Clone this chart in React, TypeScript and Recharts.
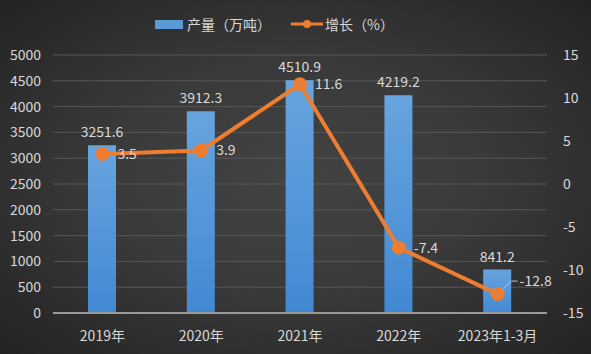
import React from 'react';
import { ComposedChart, Bar, Line, XAxis, YAxis, CartesianGrid, Legend, LabelList } from 'recharts';

const categories = ['2019年', '2020年', '2021年', '2022年', '2023年1-3月'];
const output = [3251.6, 3912.3, 4510.9, 4219.2, 841.2];
const growth = [3.5, 3.9, 11.6, -7.4, -12.8];
const leftTicks = [0, 500, 1000, 1500, 2000, 2500, 3000, 3500, 4000, 4500, 5000];
const rightTicks = [-15, -10, -5, 0, 5, 10, 15];

const data = categories.map((name, i) => ({ name, output: output[i], growth: growth[i] }));

const textColor = '#d9d9d9';
const font = '"Noto Sans CJK SC", "Noto Sans", sans-serif';

const LegendBox = () => (
  <div style={{ display: 'flex', justifyContent: 'center', alignItems: 'center', fontFamily: font, fontSize: 14, color: textColor, height: 20, paddingRight: 42 }}>
    <span style={{ display: 'inline-block', width: 28, height: 9, background: '#5b9bd5', marginRight: 4 }} />
    <span style={{ marginRight: 20 }}>产量（万吨）</span>
    <svg width={32} height={12} style={{ marginRight: 2 }}>
      <line x1={0} y1={6} x2={32} y2={6} stroke="#ed7d31" strokeWidth={3} />
      <circle cx={16} cy={6} r={4} fill="#ed7d31" />
    </svg>
    <span>增长（%）</span>
  </div>
);

const GrowthLabel = (props: any) => {
  const { x, y, value, index } = props;
  if (index === growth.length - 1) {
    return (
      <g>
        <polyline points={`${x + 4},${y - 4} ${x + 14},${y - 13} ${x + 20},${y - 13}`} fill="none" stroke="#bfbfbf" strokeWidth={1} />
        <text x={x + 22} y={y - 13} dy={5} fill={textColor} fontSize={14} fontFamily={font}>{value}</text>
      </g>
    );
  }
  return (
    <text x={x + 15} y={y} dy={5} fill={textColor} fontSize={14} fontFamily={font}>{value}</text>
  );
};

const BarLabel = (props: any) => {
  const { x, y, width, value } = props;
  return (
    <text x={x + width / 2} y={y - 8} textAnchor="middle" fill={textColor} fontSize={14} fontFamily={font}>{value}</text>
  );
};

export default function App() {
  return (
    <div style={{ position: 'absolute', left: 0, top: 0, width: 591, height: 354, background: 'radial-gradient(ellipse at 50% 50%, #434343 0%, #3a3a3a 45%, #232323 100%)' }}>
      <ComposedChart width={591} height={354} data={data} margin={{ top: 14, right: 0, bottom: 0, left: 0 }}>
        <defs>
          <linearGradient id="barFill" x1="0" y1="0" x2="0" y2="1">
            <stop offset="0%" stopColor="#67a4de" />
            <stop offset="100%" stopColor="#4289d3" />
          </linearGradient>
        </defs>
        <Legend verticalAlign="top" height={41} content={() => <LegendBox />} />
        <CartesianGrid vertical={false} stroke="#575757" strokeWidth={1} yAxisId="left" />
        <XAxis dataKey="name" height={41} axisLine={{ stroke: '#9a9a9a', strokeWidth: 2 }} tickLine={false} tickMargin={12}
          tick={{ fill: textColor, fontSize: 14, fontFamily: font }} />
        <YAxis yAxisId="left" width={53} domain={[0, 5000]} ticks={leftTicks} axisLine={false} tickLine={false} tickMargin={6}
          tick={{ fill: textColor, fontSize: 14, fontFamily: font }} interval={0} />
        <YAxis yAxisId="right" orientation="right" width={44} domain={[-15, 15]} ticks={rightTicks} axisLine={false} tickLine={false} tickMargin={10}
          tick={{ fill: textColor, fontSize: 14, fontFamily: font }} interval={0} />
        <Bar yAxisId="left" dataKey="output" fill="url(#barFill)" barSize={28} isAnimationActive={false}>
          <LabelList dataKey="output" content={BarLabel} />
        </Bar>
        <Line yAxisId="right" dataKey="growth" stroke="#ed7d31" strokeWidth={4} dot={{ r: 5, fill: '#ed7d31', stroke: '#ed7d31' }} type="linear" isAnimationActive={false}>
          <LabelList dataKey="growth" content={GrowthLabel} />
        </Line>
      </ComposedChart>
    </div>
  );
}
